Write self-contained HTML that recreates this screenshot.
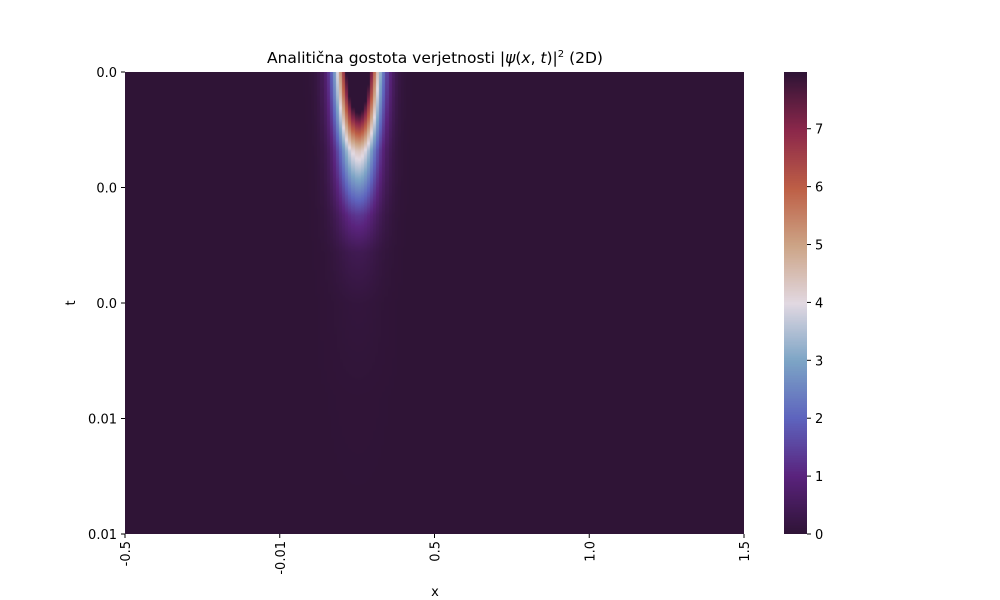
<!DOCTYPE html>
<html><head><meta charset="utf-8"><style>
body{margin:0;background:#fff;width:1000px;height:600px;overflow:hidden;font-family:"Liberation Sans","DejaVu Sans",sans-serif}
svg text{font-family:"DejaVu Sans","Liberation Sans",sans-serif;font-size:13px;fill:#000}
</style></head><body>
<div style="position:relative;width:1000px;height:600px">
<canvas id="hm" width="619" height="462" style="position:absolute;left:125px;top:72px"></canvas>
<canvas id="cb" width="23" height="462" style="position:absolute;left:784px;top:72px"></canvas>
<svg id="ax" width="1000" height="600" style="position:absolute;left:0;top:0">
<text x="435" y="63" text-anchor="middle" font-size="15.5" style="font-size:15.5px">Analitična gostota verjetnosti |<tspan font-style="italic">ψ</tspan>(<tspan font-style="italic">x</tspan>, <tspan font-style="italic">t</tspan>)|<tspan dy="-6" font-size="10" style="font-size:10px">2</tspan><tspan dy="6"> (2D)</tspan></text>
<text x="435" y="596" text-anchor="middle">x</text>
<text transform="translate(75,303) rotate(-90)" text-anchor="middle">t</text>
</svg>
</div>
<script>
// data
const xTickLabels=["-0.5","-0.01","0.5","1.0","1.5"];
const yTickLabels=["0.0","0.0","0.0","0.01","0.01"];
const cbTicks=[0,1,2,3,4,5,6,7];
const vmax=7.98;
// packet: peak density and width (fraction of x-range) at sample t fractions
const tSamples=[0,0.05,0.1,0.17,0.25,0.31,0.39,0.5,0.7,1.0];
const peakVals=[11,9.5,7.5,4.4,2.6,1.3,0.4,0.1,0.02,0];
const widthVals=[0.033,0.033,0.033,0.033,0.034,0.035,0.037,0.04,0.05,0.06];
const centerX=0.376;

const stops=[[47,20,54],[90,35,125],[94,100,190],[125,165,198],[226,217,226],[205,165,135],[190,95,70],[140,40,75],[47,20,54]];
function cmap(v){let f=Math.max(0,Math.min(1,v/vmax))*8;let i=Math.min(7,Math.floor(f)),r=f-i;const a=stops[i],b=stops[i+1];return [a[0]+(b[0]-a[0])*r,a[1]+(b[1]-a[1])*r,a[2]+(b[2]-a[2])*r];}
function interp(arr,t){for(let i=0;i<tSamples.length-1;i++){if(t<=tSamples[i+1]){const r=(t-tSamples[i])/(tSamples[i+1]-tSamples[i]);return arr[i]+(arr[i+1]-arr[i])*r;}}return arr[arr.length-1];}
const W=619,H=462;
const hm=document.getElementById('hm').getContext('2d');
const img=hm.createImageData(W,H);
const nx=200;
for(let y=0;y<H;y++){const t=y/H;const p=interp(peakVals,t),s=interp(widthVals,t);
 for(let x=0;x<W;x++){const xc=(Math.floor(x/W*nx)+0.5)/nx;const d=(xc-centerX)/s;const v=p*Math.exp(-d*d);const c=cmap(v);const k=(y*W+x)*4;img.data[k]=c[0];img.data[k+1]=c[1];img.data[k+2]=c[2];img.data[k+3]=255;}}
hm.putImageData(img,0,0);
const cb=document.getElementById('cb').getContext('2d');
for(let y=0;y<H;y++){const c=cmap(vmax*(1-y/H));cb.fillStyle=`rgb(${c[0]|0},${c[1]|0},${c[2]|0})`;cb.fillRect(0,y,23,1);}
const svg=document.getElementById('ax');const NS='http://www.w3.org/2000/svg';
function xPos(i){return 125+i*(619/(xTickLabels.length-1));}
function yPos(i){return 72+i*(462/(yTickLabels.length-1));}
function cbY(v){return 534-v/vmax*462;}
function mk(tag,at){const e=document.createElementNS(NS,tag);for(const k in at)e.setAttribute(k,at[k]);svg.appendChild(e);return e;}
xTickLabels.forEach((l,i)=>{const x=xPos(i);
 const tk=mk('line',{x1:x,x2:x,y1:534,y2:538,stroke:'#000'});
 
 
 const t=mk('text',{transform:`translate(${x+5},541) rotate(-90)`,'text-anchor':'end'});t.textContent=l;
 
 });
yTickLabels.forEach((l,i)=>{const y=yPos(i);
 const tk=mk('line',{x1:121,x2:125,y1:y,y2:y,stroke:'#000'});
 
 
 const t=mk('text',{x:117,y:y+5,'text-anchor':'end'});t.textContent=l;
 
 });
cbTicks.forEach(v=>{const y=cbY(v);
 const tk=mk('line',{x1:807,x2:811,y1:y,y2:y,stroke:'#000'});
 
 
 const t=mk('text',{x:815,y:y+5});t.textContent=v;
 
 });
</script>
</body></html>
